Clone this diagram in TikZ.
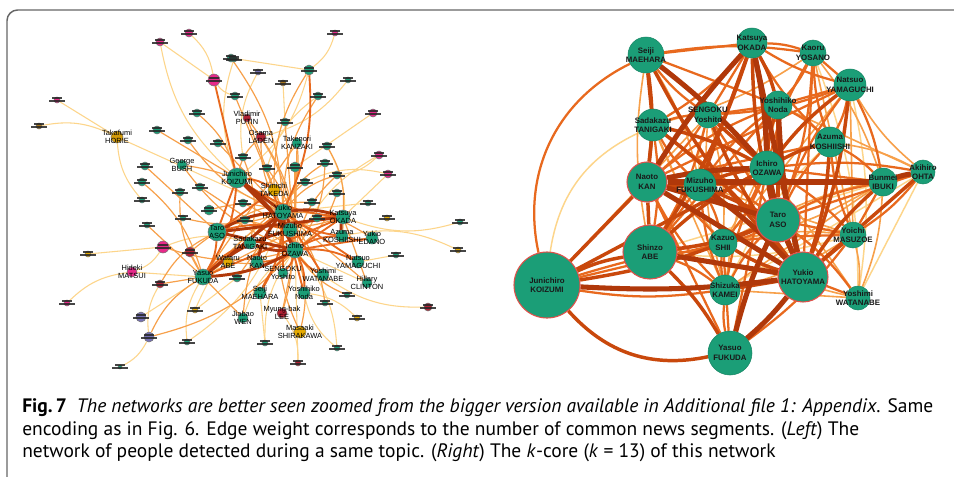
\documentclass[tikz,border=0pt]{standalone}
\usepackage{fontspec}
\setmainfont{Liberation Sans}
\newfontfamily\capfont{PT Sans}
\pgfdeclarelayer{bg}
\pgfdeclarelayer{edges}
\pgfdeclarelayer{labels}
\pgfsetlayers{bg,edges,main,labels}
\definecolor{ngreen}{HTML}{1B9E77}
\definecolor{npink}{HTML}{E7298A}
\definecolor{ngold}{HTML}{E6AB02}
\definecolor{nbrown}{HTML}{A6761D}
\definecolor{npurple}{HTML}{7570B3}
\definecolor{nred}{HTML}{B22234}
\definecolor{nborder}{HTML}{E0504A}
\definecolor{eA}{HTML}{B0380A}
\definecolor{eB}{HTML}{C9480C}
\definecolor{eC}{HTML}{E8691E}
\definecolor{eD}{HTML}{F7A04A}
\definecolor{eE}{HTML}{FDD58A}
\definecolor{frame}{HTML}{666666}
\tikzset{
  rnode/.style={circle, fill=ngreen, draw=ngreen!85!black, line width=0.4pt, inner sep=0},
  rnodeR/.style={rnode, draw=nborder, line width=0.8pt},
  rlab/.style={font=\fontsize{5.9}{7.2}\selectfont\bfseries, align=center, inner sep=0, text=black!90},
  lnode/.style={circle, inner sep=0, draw=black!55, line width=0.4pt},
  llab/.style={font=\fontsize{5.6}{5.9}\selectfont, align=center, inner sep=0, text=black},
  wA/.style={draw=eA, line width=3.8pt},
  wB/.style={draw=eB, line width=2.6pt},
  wC/.style={draw=eC, line width=1.7pt},
  wD/.style={draw=eD, line width=1.2pt},
  wE/.style={draw=eE, line width=1.1pt},
  lA/.style={draw=eA, line width=2.2pt},
  lB/.style={draw=eC, line width=1.4pt},
  lC/.style={draw=eD, line width=0.9pt},
  lD/.style={draw=eE, line width=0.8pt},
  captext/.style={anchor=base west, inner sep=0, text=black!88}
}
\newcommand\RN[6][rnode]{%
  \node[#1, minimum size=#5*1.5pt] (#2) at (#3,#4) {};
  \begin{pgfonlayer}{labels}\node[rlab] at (#3,#4) {#6};\end{pgfonlayer}}
\newcommand\LN[6]{%
  \node[lnode, fill=#4, minimum size=#5*1.5pt] (#1) at (#2,#3) {};
  \begin{pgfonlayer}{labels}\node[llab] at (#2,#3) {#6};\end{pgfonlayer}}
\newcommand\LS[5]{%
  \node[lnode, fill=#4, minimum size=#5*1.5pt] (#1) at (#2,#3) {};
  \begin{pgfonlayer}{labels}
  \fill[black!85, opacity=0.85] ({#2-5},{#3-3.2}) rectangle ({#2+5},{#3-1.2});
  \fill[black!85, opacity=0.85] ({#2-8},{#3+0.2}) rectangle ({#2+8},{#3+2.2});
  \end{pgfonlayer}}
\newcommand\EdgeSet[3]{\foreach \a/\b [count=\i] in {#3} {%
  \pgfmathtruncatemacro\bd{(mod(\i,3)-1)*#2}%
  \draw[#1] (\a) to[bend left=\bd] (\b);}}
\newsavebox\capboxA
\newsavebox\capboxB
\newsavebox\capboxC
\begin{document}
\sbox\capboxA{\capfont\fontsize{12}{14}\selectfont\textbf{Fig.\,7}\enspace\textit{The networks are better seen zoomed from the bigger version available in Additional file 1: Appendix}. Same}%
\sbox\capboxB{\capfont\fontsize{12}{14}\selectfont encoding as in Fig. 6. Edge weight corresponds to the number of common news segments. (\textit{Left}) The}%
\sbox\capboxC{\capfont\fontsize{12}{14}\selectfont network of people detected during a same topic. (\textit{Right}) The \textit{k}-core (\textit{k} = 13) of this network}%
\pgfmathsetmacro\capscale{(911*0.75)/\wd\capboxA}%
\begin{tikzpicture}[x=0.75pt, y=-0.75pt]
\useasboundingbox (0,0) rectangle (954,476);
\begin{pgfonlayer}{bg}
\fill[white] (0,0) rectangle (954,476);
\end{pgfonlayer}
\clip (0,0) rectangle (954,476);
\draw[frame, line width=1.1pt, rounded corners=8] (7,520) -- (7,10) -- (1000,10);

% ---------------- right network ----------------
\RN[rnodeR]{koi}{547}{285}{33}{Junichiro\\KOIZUMI}
\RN[rnodeR]{abe}{650}{252}{27}{Shinzo\\ABE}
\RN[rnodeR]{hat}{803}{277}{25}{Yukio\\HATOYAMA}
\RN[rnodeR]{aso}{778}{220}{22}{Taro\\ASO}
\RN[rnodeR]{kan}{647}{182}{20}{Naoto\\KAN}
\RN{fuda}{730}{353}{22}{Yasuo\\FUKUDA}
\RN{mae}{646}{55}{18}{Seiji\\MAEHARA}
\RN{oka}{752}{43}{15}{Katsuya\\OKADA}
\RN{yos}{813}{53}{13}{Kaoru\\YOSANO}
\RN{yam}{850}{85}{16}{Natsuo\\YAMAGUCHI}
\RN{noda}{778}{105}{14}{Yoshihiko\\Noda}
\RN{sen}{708}{115}{13}{SENGOKU\\Yoshito}
\RN{tan}{653}{125}{16}{Sadakazu\\TANIGAKI}
\RN{kos}{830}{142}{15}{Azuma\\KOSHIISHI}
\RN{oza}{767}{168}{17}{Ichiro\\OZAWA}
\RN{ohta}{923}{172}{12}{Akihiro\\OHTA}
\RN{ibu}{883}{182}{14}{Bunmei\\IBUKI}
\RN{fuk}{700}{185}{16}{Mizuho\\FUKUSHIMA}
\RN{shii}{723}{243}{14}{Kazuo\\SHII}
\RN{mas}{853}{235}{13}{Yoichi\\MASUZOE}
\RN{kam}{725}{290}{15}{Shizuka\\KAMEI}
\RN{wat}{858}{298}{12}{Yoshimi\\WATANABE}

% ---------------- left network ----------------
\LS{p1}{160}{42}{npink}{4}
\LS{p2}{189}{33}{npink}{4}
\LS{p3}{214}{80}{npink}{6}
\LS{g1}{231}{58}{ngreen}{4}
\LS{g2}{235}{96}{ngreen}{4}
\LS{p4}{57}{100}{npink}{3}
\LS{b1}{39}{126}{nbrown}{3}
\LN{horie}{117}{137}{ngold!70!nbrown}{6}{Takafumi\\HORIE}
\LS{g3}{157}{130}{ngreen}{4}
\LS{g4}{197}{113}{ngreen}{4}
\LS{g5}{188}{140}{ngreen}{4}
\LS{g6}{218}{143}{ngreen}{4}
\LN{bush}{182}{165}{ngreen}{5}{George\\BUSH}
\LS{g7}{145}{166}{ngreen}{4}
\LS{g8}{142}{182}{ngreen}{4}
\LN{koiL}{237}{178}{ngreen}{10}{Junichiro\\KOIZUMI}
\LS{pT}{335}{33}{npink}{3}
\LS{gD}{309}{70}{ngreen}{5}
\LS{pu1}{258}{72}{npurple}{3}
\LS{br1}{283}{83}{nbrown}{3}
\LS{g9}{348}{80}{ngreen}{3}
\LS{g10}{318}{96}{ngreen}{4}
\LS{pk5}{373}{113}{npink}{4}
\LN{putin}{247}{118}{nred}{4}{Vladimir\\PUTIN}
\LN{laden}{261}{137}{nred}{5}{Osama\\LADEN}
\LS{g11}{285}{122}{ngreen}{4}
\LN{kanz}{297}{143}{ngreen}{5}{Takenori\\KANZAKI}
\LS{g12}{327}{146}{ngreen}{4}
\LS{pk6}{379}{155}{npink}{4}
\LS{pk7}{388}{174}{npink}{4}
\LS{g13}{325}{163}{ngreen}{4}
\LS{g14}{337}{175}{ngreen}{4}
\LS{g15}{295}{167}{ngreen}{5}
\LS{g16}{267}{168}{ngreen}{4}
\LS{g17}{243}{157}{ngreen}{4}
\LS{g18}{234}{59}{ngreen}{3}
\LS{g19}{305}{182}{ngreen}{4}
\LN{take}{274}{190}{ngold}{6}{Shinichi\\TAKEDA}
\LN{hatL}{283}{212}{ngreen}{8}{Yukio\\HATOYAMA}
\LN{okaL}{343}{217}{ngreen}{7}{Katsuya\\OKADA}
\LN{fukL}{290}{230}{ngreen}{7}{Mizuho\\FUKUSHIMA}
\LN{kosL}{342}{236}{ngreen}{6}{Azuma\\KOSHIISHI}
\LN{edaL}{372}{238}{ngreen}{6}{Yukio\\EDANO}
\LN{tanL}{250}{243}{ngreen}{6}{Sadakazu\\TANIGAKI}
\LN{ozaL}{295}{250}{ngreen}{8}{Ichiro\\OZAWA}
\LN{yamL}{358}{262}{ngreen}{6}{Natsuo\\YAMAGUCHI}
\LN{senL}{283}{273}{ngreen}{5}{SENGOKU\\Yoshito}
\LN{watL}{323}{275}{ngreen}{6}{Yoshimi\\WATANABE}
\LN{clin}{367}{283}{ngreen}{5}{Hillary\\CLINTON}
\LN{maeL}{260}{293}{ngreen}{6}{Seiji\\MAEHARA}
\LN{nodaL}{304}{293}{ngreen}{6}{Yoshihiko\\Noda}
\LN{lee}{282}{313}{nred}{5}{Myung-bak\\LEE}
\LN{wen}{243}{318}{ngreen}{5}{Jiabao\\WEN}
\LN{shir}{300}{332}{ngold}{6}{Masaaki\\SHIRAKAWA}
\LN{asoL}{217}{232}{ngreen}{9}{Taro\\ASO}
\LN{kanL}{257}{262}{ngreen}{6}{Naoto\\KAN}
\LN{abeW}{228}{262}{ngold}{5}{Wataru\\ABE}
\LS{kim}{190}{252}{nred}{5}
\LN{fudaL}{203}{277}{ngreen}{8}{Yasuo\\FUKUDA}
\LN{matsui}{132}{272}{npink}{5}{Hideki\\MATSUI}
\LS{pk8}{163}{247}{npink}{6}
\LS{rd1}{160}{284}{nred}{4}
\LS{pu2}{141}{317}{npurple}{5}
\LS{pu3}{149}{337}{npurple}{5}
\LS{gold2}{88}{254}{ngold}{3}
\LS{pk9}{67}{303}{npink}{3}
\LS{gs1}{147}{225}{ngreen}{3}
\LS{gs2}{142}{200}{ngreen}{3}
\LS{gs3}{183}{218}{ngreen}{3}
\LS{gs4}{180}{192}{ngreen}{4}
\LS{gs5}{200}{187}{ngreen}{4}
\LS{gs6}{209}{210}{ngreen}{5}
\LS{gold3}{195}{310}{ngold}{3}
\LS{gs7}{187}{342}{ngreen}{3}
\LS{bot1}{120}{367}{ngreen}{2}
\LS{gold4}{387}{218}{ngold}{3}
\LS{gs8}{460}{222}{ngreen}{3}
\LS{gold5}{458}{250}{ngold}{3}
\LS{gs9}{396}{255}{ngreen}{3}
\LS{rd2}{428}{307}{nred}{4}
\LS{gold6}{357}{318}{ngold}{3}
\LS{gs10}{347}{295}{ngreen}{3}
\LS{gs11}{325}{303}{ngreen}{3}
\LS{gs12}{265}{343}{ngreen}{3}
\LS{gs13}{337}{348}{ngreen}{3}
\LS{rd3}{298}{363}{nred}{3}
\LS{gs14}{368}{203}{ngreen}{3}
\LS{gs15}{337}{193}{ngreen}{4}
\LS{gs16}{312}{202}{ngreen}{4}
\LS{gs17}{317}{218}{ngreen}{4}
\LS{gs18}{243}{203}{ngreen}{4}
\LS{gs19}{245}{220}{ngreen}{4}
\LS{gs20}{237}{278}{ngreen}{4}

\begin{pgfonlayer}{edges}
% right network edges
\EdgeSet{wE}{10}{ohta/wat, yam/wat, kos/kam, ibu/abe, mas/abe, sen/fuk, ohta/kam, yos/wat}
\draw[wE] (koi) to[bend left=28] (tan);
\EdgeSet{wD}{9}{koi/sen, yos/ibu, yam/ohta, yam/mas, kos/ohta, wat/mas, wat/kam, wat/shii, wat/ibu, wat/oza, mas/kam, mas/shii, ibu/kam, ibu/shii, tan/shii, tan/kam, sen/shii, sen/kam, fuk/mas, mae/fuk, mae/abe, yos/mas, yos/tan, ohta/shii, ohta/noda, noda/shii, noda/kam, yam/shii}
\EdgeSet{wC}{8}{mae/oka, mae/yos, mae/sen, mae/noda, oka/yos, oka/yam, oka/sen, oka/tan, oka/kos, yos/yam, yos/noda, yos/oza, yos/hat, yos/aso, yos/kos, yam/noda, yam/kos, yam/aso, yam/kan, yam/sen, noda/kan, noda/sen, noda/kos, noda/fuk, noda/abe, sen/kan, sen/tan, sen/aso, sen/abe, tan/fuk, tan/aso, tan/abe, kos/aso, kos/kan, kos/ibu, kos/mas, oza/ibu, oza/shii, oza/kam, oza/fuda, oza/mas, ibu/aso, ibu/mas, kan/shii, kan/kam, kan/fuda, fuk/shii, fuk/kam, fuk/abe, aso/shii, aso/kam, aso/mas, shii/abe, shii/kam, shii/fuda, abe/kam, koi/kam, koi/shii, koi/mas, kam/fuda, hat/wat, mas/fuda, ohta/oza, ohta/aso, ohta/mas, wat/aso, ibu/fuk, yam/ibu}
\draw[wC] (mae) to[bend right=38] (koi);
\EdgeSet{wB}{7}{koi/kan, koi/abe, koi/aso, koi/oza, abe/oza, abe/aso, abe/kan, abe/fuda, kan/fuk, kan/tan, tan/oza, sen/hat, sen/oza, oka/noda, oka/aso, oka/fuk, oka/abe, noda/oza, noda/aso, kos/hat, kos/oza, mas/hat, yam/hat, yam/oza, fuk/aso, fuk/oza, shii/hat, kam/hat, mae/kan, mae/hat, mae/tan, tan/hat, ibu/hat, ohta/hat}
\draw[wB] (koi) to[bend right=30] (fuda);
\EdgeSet{wA}{5}{oka/hat, oka/oza, oza/hat, aso/hat, hat/fuda, aso/fuda, kan/hat, kan/oza, koi/hat, abe/hat, mae/oza, noda/hat, kan/aso, fuk/hat, oka/kan, kan/ibu, ibu/ohta, oza/aso}
% left network edges
\EdgeSet{lD}{18}{p1/p3, p2/p3, p3/g2, p4/horie, b1/horie, horie/gs2, horie/hatL, pT/gD, pu1/g17, br1/g11, g9/laden, g10/g16, pk5/g15, pk6/g14, pk7/g19, gold2/pk8, pk9/matsui, matsui/pk8, matsui/fudaL, pk8/tanL, rd1/pu3, pu2/fudaL, gs7/fudaL, bot1/pu3, gold3/kanL, gs8/okaL, gold5/kosL, gs9/yamL, rd2/watL, gold6/nodaL, gs12/maeL, gs13/nodaL, rd3/lee, clin/ozaL, wen/ozaL, g18/koiL, g1/gD, gD/koiL, p1/koiL, gs14/hatL, g12/kosL, pk6/ozaL, pk7/okaL, gs12/ozaL, gs13/ozaL, rd3/ozaL, gold3/hatL, gs7/hatL}
\EdgeSet{lC}{16}{g3/koiL, g4/koiL, g5/hatL, g6/hatL, bush/hatL, bush/ozaL, g7/asoL, g8/fudaL, gD/take, putin/hatL, laden/ozaL, laden/hatL, kanz/ozaL, g12/okaL, g13/hatL, g15/ozaL, g17/tanL, gs4/fudaL, gs5/ozaL, gs6/hatL, abeW/ozaL, kim/fudaL, kim/hatL, shir/ozaL, lee/ozaL, wen/hatL, edaL/hatL, clin/okaL, gs15/ozaL, gs16/asoL, gs17/fudaL, gs18/ozaL, gs19/okaL, gs20/hatL, gs10/ozaL, gs11/hatL, rd1/fudaL, pu3/fudaL, gs3/hatL, gs1/fudaL, g16/ozaL, g14/hatL, g19/fudaL, kanz/hatL, pk8/ozaL, g2/hatL, g1/hatL, g10/hatL, g11/ozaL, putin/ozaL, laden/koiL, kanz/fudaL, g13/ozaL, g14/ozaL, clin/hatL, shir/hatL, lee/hatL, wen/fudaL, rd1/asoL, pu3/ozaL}
\EdgeSet{lB}{14}{koiL/asoL, koiL/fudaL, take/hatL, take/asoL, fukL/okaL, fukL/asoL, senL/hatL, maeL/ozaL, nodaL/ozaL, watL/hatL, kosL/hatL, yamL/ozaL, okaL/ozaL, tanL/hatL, kanL/ozaL, edaL/ozaL, asoL/fudaL, koiL/okaL, fudaL/okaL, koiL/take, tanL/fudaL, p3/koiL, gD/hatL, maeL/hatL, nodaL/hatL, edaL/kosL, kosL/ozaL, yamL/hatL, watL/ozaL, senL/ozaL, fukL/ozaL}
\EdgeSet{lA}{12}{koiL/hatL, koiL/ozaL, hatL/ozaL, asoL/ozaL, asoL/hatL, fudaL/ozaL, fudaL/hatL, kanL/hatL, tanL/ozaL, asoL/okaL, hatL/okaL, fukL/hatL, koiL/fukL, fudaL/fukL, okaL/kosL}
\end{pgfonlayer}

% ---------------- caption ----------------
\node[captext] (cap1) at (22,412) {\scalebox{\capscale}{\usebox\capboxA}};
\node[captext] (cap2) at (22,435) {\scalebox{\capscale}{\usebox\capboxB}};
\node[captext] (cap3) at (22,457) {\scalebox{\capscale}{\usebox\capboxC}};
\end{tikzpicture}
\end{document}
